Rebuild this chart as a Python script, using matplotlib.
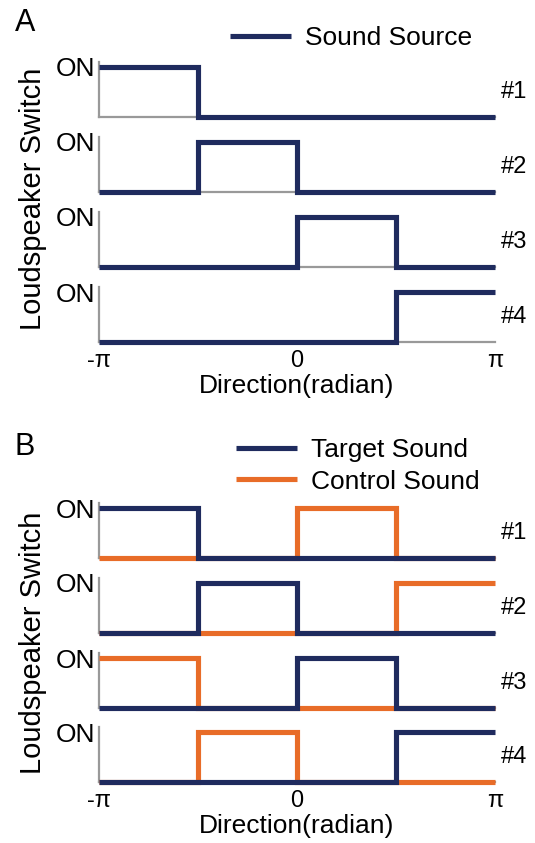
import numpy as np
import matplotlib
matplotlib.use("Agg")
import matplotlib.pyplot as plt

plt.rcParams['font.family'] = ['Liberation Sans', 'DejaVu Sans']
plt.rcParams['axes.unicode_minus'] = False

# ---------------- data ----------------
edges = [-np.pi, -np.pi / 2, 0.0, np.pi / 2, np.pi]
tick_values = [-np.pi, 0.0, np.pi]
tick_labels = ["-π", "0", "π"]
row_labels = ["#1", "#2", "#3", "#4"]

# Panel A: sound source state per quadrant for each loudspeaker
source_A = [
    [1, 0, 0, 0],
    [0, 1, 0, 0],
    [0, 0, 1, 0],
    [0, 0, 0, 1],
]
# Panel B
target_B = [
    [1, 0, 0, 0],
    [0, 1, 0, 0],
    [0, 0, 1, 0],
    [0, 0, 0, 1],
]
control_B = [
    [0, 0, 1, 0],
    [0, 0, 0, 1],
    [1, 0, 0, 0],
    [0, 1, 0, 0],
]

NAVY = '#1f2b5e'
ORANGE = '#e86c28'
GRAY = '#999999'

W, H = 535, 843
fig = plt.figure(figsize=(W / 100, H / 100), dpi=100)

x_left, x_right = 99, 495
rows_off_A = [117, 192, 267, 342]
rows_off_B = [558, 633, 708, 782]
ax_h = 55  # pixel height (OFF level to top of spine)


def make_axes(off_px):
    return fig.add_axes([x_left / W, 1 - off_px / H, (x_right - x_left) / W, ax_h / H])


def step_xy(states):
    return edges, list(states) + [states[-1]]


def style(ax, i, last):
    ax.set_xlim(-np.pi, np.pi)
    ax.set_ylim(0, 1.1)
    for s in ['top', 'right']:
        ax.spines[s].set_visible(False)
    for s in ['left', 'bottom']:
        ax.spines[s].set_color(GRAY)
        ax.spines[s].set_linewidth(1.6)
        ax.spines[s].set_zorder(0.5)
    ax.set_yticks([1])
    ax.set_yticklabels(["ON"], fontsize=19)
    ax.tick_params(axis='y', length=0, pad=3)
    ax.patch.set_alpha(0)
    if last:
        ax.set_xticks(tick_values)
        ax.set_xticklabels(tick_labels, fontsize=17)
        ax.tick_params(axis='x', length=0, pad=6)
        ax.set_xlabel("Direction(radian)", fontsize=19, labelpad=1)
    else:
        ax.set_xticks([])
    ax.annotate(row_labels[i], xy=(1, 0.5), xycoords=('axes fraction', 'data'),
                xytext=(4, 0), textcoords='offset points', fontsize=17,
                ha='left', va='center')


lw = 3.7
# ---------------- Panel A ----------------
for i, off in enumerate(rows_off_A):
    ax = make_axes(off)
    x, y = step_xy(source_A[i])
    ln, = ax.step(x, y, where='post', color=NAVY, lw=lw, clip_on=False,
                  solid_joinstyle='miter', solid_capstyle='butt', zorder=3,
                  label='Sound Source')
    style(ax, i, i == len(rows_off_A) - 1)
    if i == 0:
        hA = ln

fig.legend(handles=[hA], loc='center left', bbox_to_anchor=(230 / W, 1 - 38 / H),
           frameon=False, fontsize=19, handlelength=2.3, handletextpad=0.55,
           borderpad=0, borderaxespad=0)

# ---------------- Panel B ----------------
for i, off in enumerate(rows_off_B):
    ax = make_axes(off)
    x, y = step_xy(control_B[i])
    lc, = ax.step(x, y, where='post', color=ORANGE, lw=lw, clip_on=False,
                  solid_joinstyle='miter', solid_capstyle='butt', zorder=2,
                  label='Control Sound')
    x, y = step_xy(target_B[i])
    lt, = ax.step(x, y, where='post', color=NAVY, lw=lw, clip_on=False,
                  solid_joinstyle='miter', solid_capstyle='butt', zorder=3,
                  label='Target Sound')
    style(ax, i, i == len(rows_off_B) - 1)
    if i == 0:
        hT, hC = lt, lc

fig.legend(handles=[hT, hC], loc='center left', bbox_to_anchor=(236 / W, 1 - 466 / H),
           frameon=False, fontsize=19, handlelength=2.3, handletextpad=0.55,
           labelspacing=0.28, borderpad=0, borderaxespad=0)

# ---------------- labels ----------------
fig.text(25 / W, 1 - 23 / H, "A", fontsize=22, ha='center', va='center')
fig.text(25 / W, 1 - 447 / H, "B", fontsize=22, ha='center', va='center')
fig.text(33 / W, 1 - 199 / H, "Loudspeaker Switch", fontsize=21, rotation=90,
         ha='center', va='center')
fig.text(33 / W, 1 - 643 / H, "Loudspeaker Switch", fontsize=21, rotation=90,
         ha='center', va='center')

fig.savefig("out.png", dpi=100)
